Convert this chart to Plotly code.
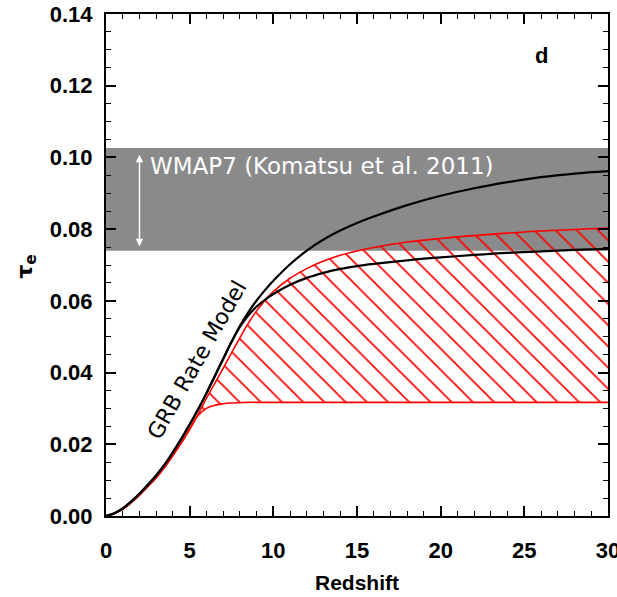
import plotly.graph_objects as go

# Redshift grid shared by all optical-depth curves
redshift = [0, 0.5, 1, 1.5, 2, 2.5, 3, 3.5, 4, 4.5, 5, 5.5, 6, 6.5, 7, 7.5, 8, 8.5,
            9, 9.5, 10, 11, 12, 13, 14, 15, 16, 18, 20, 22, 24, 26, 28, 30]

# GRB rate model, upper and lower variants (black curves)
tau_grb_high = [0, 0.0008, 0.0021, 0.0040, 0.0062, 0.0087, 0.0113, 0.0143, 0.0178, 0.0215,
                0.0255, 0.0297, 0.0342, 0.0390, 0.0438, 0.0486, 0.0530, 0.0568,
                0.0601, 0.0630, 0.0656, 0.0702, 0.0740, 0.0771, 0.0796, 0.0817, 0.0835,
                0.0867, 0.0893, 0.0914, 0.0931, 0.0945, 0.0955, 0.0962]
tau_grb_low = [0, 0.0008, 0.0021, 0.0040, 0.0062, 0.0087, 0.0113, 0.0143, 0.0178, 0.0215,
               0.0255, 0.0297, 0.0342, 0.0390, 0.0438, 0.0485, 0.0527, 0.0559,
               0.0584, 0.0603, 0.0619, 0.0645, 0.0664, 0.0678, 0.0689, 0.0697, 0.0703,
               0.0713, 0.0721, 0.0728, 0.0734, 0.0738, 0.0742, 0.0745]

# Allowed range (red hatched envelope)
tau_env_high = [0, 0.0007, 0.0019, 0.0037, 0.0058, 0.0082, 0.0107, 0.0136, 0.0169, 0.0204,
                0.0242, 0.0283, 0.0328, 0.0370, 0.0412, 0.0455, 0.0497, 0.0537,
                0.0572, 0.0601, 0.0626, 0.0663, 0.0690, 0.0711, 0.0727, 0.0739, 0.0749,
                0.0764, 0.0774, 0.0782, 0.0789, 0.0795, 0.0799, 0.0803]
tau_env_low = [0, 0.0007, 0.0019, 0.0037, 0.0058, 0.0082, 0.0107, 0.0136, 0.0169, 0.0204,
               0.0242, 0.0280, 0.0300, 0.0309, 0.0313, 0.0315, 0.0316, 0.0317,
               0.0317, 0.0317, 0.0317, 0.0317, 0.0317, 0.0317, 0.0317, 0.0317, 0.0317,
               0.0317, 0.0317, 0.0317, 0.0317, 0.0317, 0.0317, 0.0317]

# WMAP7 constraint band
wmap_low, wmap_high = 0.074, 0.1026

x_ticks = [0, 5, 10, 15, 20, 25, 30]
y_ticks = [0.00, 0.02, 0.04, 0.06, 0.08, 0.10, 0.12, 0.14]

FONT = "DejaVu Sans"
AXFONT = "Liberation Sans"

fig = go.Figure()

fig.add_shape(type="rect", xref="x", yref="y", x0=0, x1=30, y0=wmap_low, y1=wmap_high,
              fillcolor="#8a8a8a", line_width=0, layer="below")

fig.add_trace(go.Scatter(x=redshift, y=tau_env_low, mode="lines",
                         line=dict(color="#ff0000", width=1.6, shape="spline"),
                         showlegend=False, hoverinfo="skip"))
fig.add_trace(go.Scatter(x=redshift, y=tau_env_high, mode="lines",
                         line=dict(color="#ff0000", width=1.6, shape="spline"),
                         fill="tonexty", fillcolor="rgba(0,0,0,0)",
                         fillpattern=dict(shape="\\", fgcolor="#ff0000", fgopacity=1,
                                          bgcolor="rgba(0,0,0,0)", size=15, solidity=0.11),
                         showlegend=False, hoverinfo="skip"))
fig.add_trace(go.Scatter(x=redshift, y=tau_grb_low, mode="lines",
                         line=dict(color="black", width=2.2, shape="spline"),
                         showlegend=False))
fig.add_trace(go.Scatter(x=redshift, y=tau_grb_high, mode="lines",
                         line=dict(color="black", width=2.2, shape="spline"),
                         showlegend=False))

# double-headed arrow marking the WMAP7 range
fig.add_annotation(x=2, y=0.0752, ax=2, ay=0.1012, xref="x", yref="y", axref="x", ayref="y",
                   text="", showarrow=True, arrowside="end+start", arrowhead=2,
                   startarrowhead=2, arrowsize=1, startarrowsize=1,
                   arrowwidth=1.5, arrowcolor="white")
fig.add_annotation(x=2.5, y=0.0975, xref="x", yref="y", text="WMAP7 (Komatsu et al. 2011)",
                   showarrow=False, xanchor="left", yanchor="middle",
                   font=dict(family=FONT, size=23, color="white"))
fig.add_annotation(x=5.45, y=0.0436, xref="x", yref="y", text="GRB Rate Model",
                   showarrow=False, textangle=-60.5,
                   font=dict(family=FONT, size=22, color="black"))
fig.add_annotation(x=26, y=0.1285, xref="x", yref="y", text="<b>d</b>", showarrow=False,
                   font=dict(family=AXFONT, size=22, color="black"))

# axis titles
fig.add_annotation(x=0.5, y=-0.132, xref="paper", yref="paper", text="<b>Redshift</b>",
                   showarrow=False, xanchor="center", yanchor="middle",
                   font=dict(family=AXFONT, size=21, color="black"))
fig.add_annotation(x=-0.159, y=0.497, xref="paper", yref="paper", text="<b>τ<sub>e</sub></b>",
                   showarrow=False, textangle=-90, xanchor="center", yanchor="middle",
                   font=dict(family=FONT, size=22, color="black"))

axis_common = dict(showline=True, linecolor="black", linewidth=2, mirror="allticks",
                   ticks="inside", ticklen=10, tickwidth=1.6, tickcolor="black",
                   showgrid=False, zeroline=False, ticklabeloverflow="allow",
                   automargin=False,
                   tickfont=dict(family=AXFONT, size=22, color="black", weight="bold"))

fig.update_xaxes(range=[0, 30], tickvals=x_ticks, ticklabelstandoff=14,
                 minor=dict(dtick=1, ticks="inside", ticklen=5, tickwidth=1.4,
                            tickcolor="black", showgrid=False),
                 **axis_common)
fig.update_yaxes(range=[0, 0.14], tickvals=y_ticks, tickformat=".2f", ticklabelstandoff=7,
                 minor=dict(dtick=0.005, ticks="inside", ticklen=5, tickwidth=1.4,
                            tickcolor="black", showgrid=False),
                 **axis_common)

fig.update_layout(width=617, height=597, margin=dict(l=106, r=9, t=14, b=81),
                  plot_bgcolor="white", paper_bgcolor="white", showlegend=False)

fig.write_html("out.html")
